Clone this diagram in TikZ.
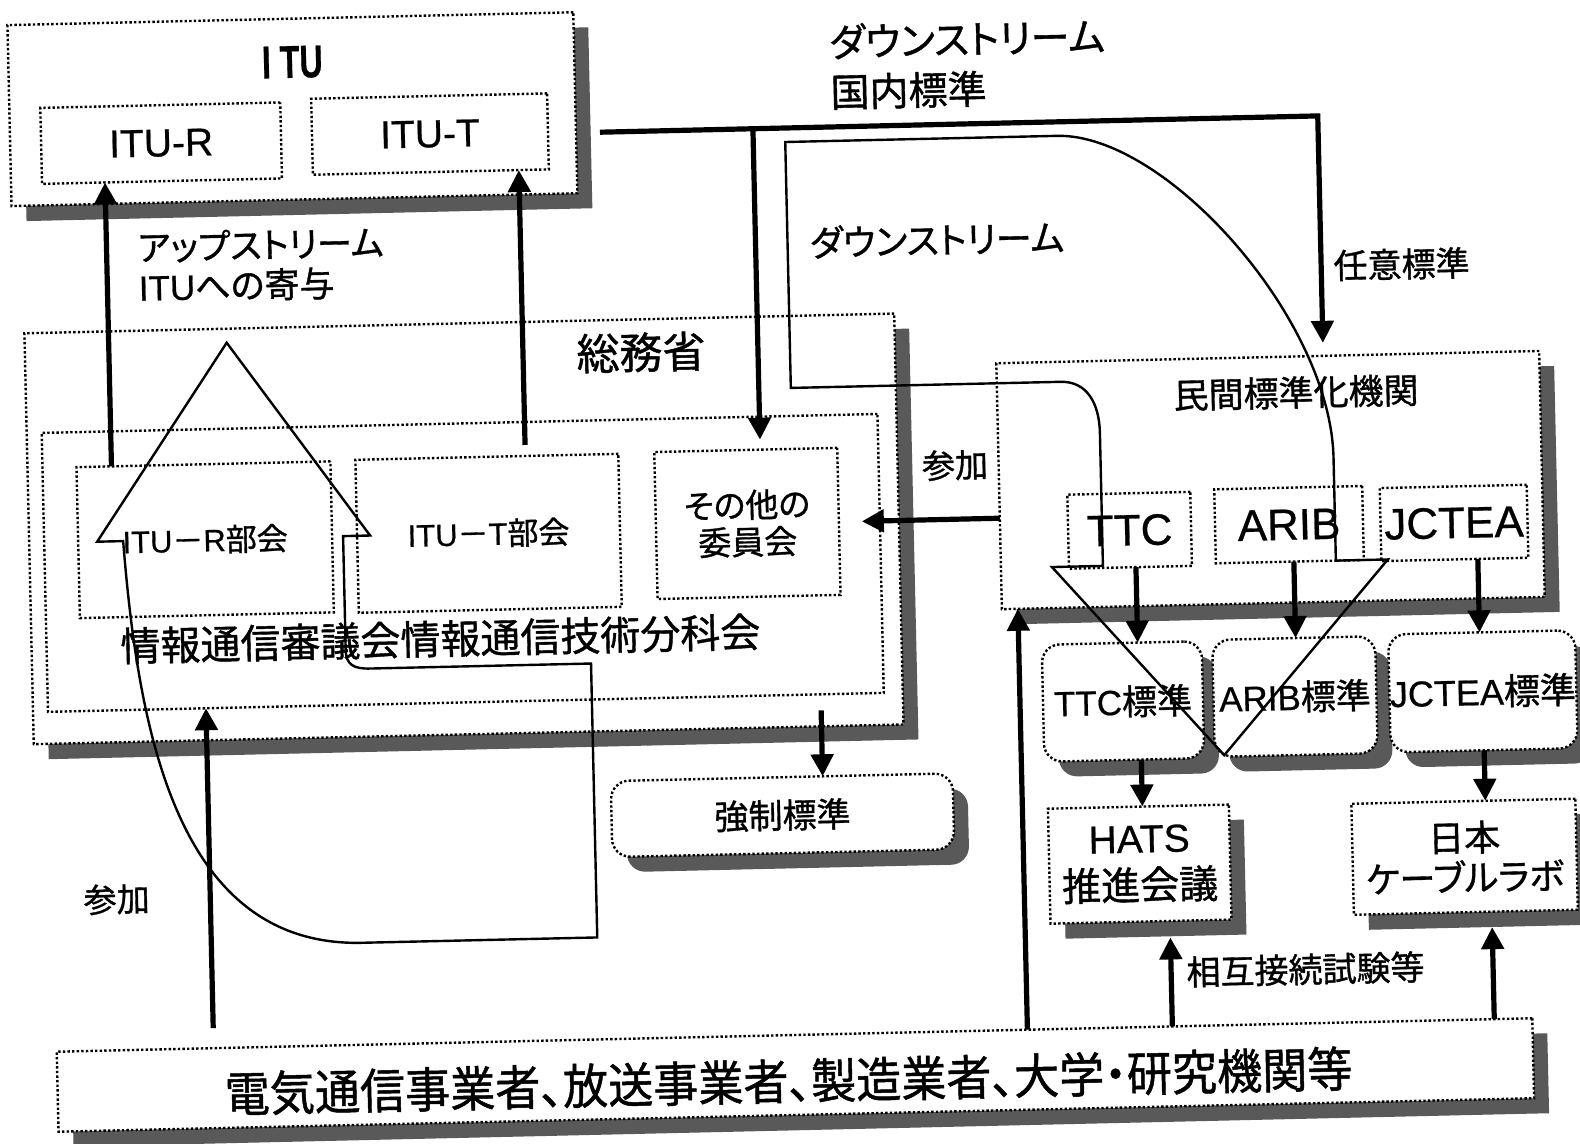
\documentclass[tikz,border=0pt]{standalone}
\usepackage{fontspec}
\usepackage{graphicx}
\setmainfont{Liberation Sans}[FakeBold=0.6]
\newfontfamily\jpf{Noto Sans CJK JP}[RawFeature=+palt,FakeBold=1.0]
\newcommand\JP[1]{{\jpf #1}}
\newcommand\fs[2]{\fontsize{#1}{#2}\selectfont}
\usetikzlibrary{arrows.meta,shadows}
\tikzset{
  dbox/.style={draw, line width=1.2pt, dash pattern=on 1.2pt off 1.1pt, fill=white, inner sep=0pt},
  sbox/.style={dbox, drop shadow={shadow xshift=7.5pt, shadow yshift=-7.5pt, fill=black!65, opacity=1}},
  rbox/.style={sbox, rounded corners=9pt},
  wd/.style={minimum width=#1*0.5pt},
  ht/.style={minimum height=#1*0.5pt},
  tarr/.style={line width=2.6pt, line join=miter, -{Triangle[length=11pt,width=11pt]}},
  hollow/.style={line width=1.2pt, line join=miter},
  lbl/.style={inner sep=0pt},
}
\begin{document}
\begin{tikzpicture}[x=0.5pt,y=-0.5pt]
\path[fill=white,use as bounding box] (0,0) rectangle (1580,1144);
\begin{scope}[rotate around={1.3:(790,572)}, every node/.append style={transform shape}]
% ITU
\node[sbox, wd=566, ht=181] (itu) at (303,98) {};
\node[lbl, font=\fs{23}{27}\bfseries] (itut) at (304,51) {\scalebox{0.7}[1]{I TU}};
\node[dbox, wd=240, ht=76, font=\fs{19.5}{23}] (itur) at (171,129) {ITU-R};
\node[dbox, wd=236, ht=76, font=\fs{19.5}{23}] (itutb) at (440,126) {ITU-T};
% Somusho
\node[sbox, wd=870, ht=411] (somu) at (465,521.5) {};
\node[lbl, font=\jpf\fs{21.5}{25}] (somut) at (646,349) {総務省};
\node[dbox, wd=836, ht=279] (shingi) at (463,555.5) {};
\node[dbox, wd=254, ht=151, font=\fs{15.5}{19}] (iturb) at (206,526.5) {ITU\JP{－}R\JP{部会}};
\node[dbox, wd=263, ht=153, font=\fs{15.5}{19}] (itutbk) at (489.5,526.5) {ITU\JP{－}T\JP{部会}};
\node[dbox, wd=183, ht=147, font=\jpf\fs{16.5}{18.5}, align=center] (sonota) at (748.5,522.5) {その他の\\委員会};
\node[lbl, font=\jpf\fs{20}{23}] (shingit) at (439,631) {情報通信審議会情報通信技術分科会};
% kyosei
\node[rbox, wd=342, ht=76, font=\jpf\fs{17}{20}] (kyosei) at (777,815) {強制標準};
% minkan
\node[sbox, wd=543, ht=246] (minkan) at (1272.5,491) {};
\node[lbl, font=\jpf\fs{17.5}{21}] (minkant) at (1300,404) {民間標準化機関};
\node[dbox, wd=123, ht=74, font=\fs{22}{26}] (ttc) at (1130.5,538) {TTC};
\node[dbox, wd=148, ht=74, font=\fs{22}{26}] (arib) at (1290,536) {ARIB};
\node[dbox, wd=147, ht=73, font=\fs{22}{26}] (jctea) at (1455,538) {JCTEA};
\node[rbox, wd=160, ht=117, font=\fs{17.5}{21}] (ttcs) at (1120,709) {TTC\JP{標準}};
\node[rbox, wd=163, ht=117, font=\fs{17.5}{21}] (aribs) at (1292,708) {ARIB\JP{標準}};
\node[rbox, wd=187, ht=118, font=\fs{18}{21}] (jcteas) at (1480,707) {JCTEA\JP{標準}};
\node[sbox, wd=181, ht=115, align=center, font=\fs{19.5}{23.5}] (hats) at (1133,872) {HATS\\\JP{推進会議}};
\node[sbox, wd=224, ht=111, align=center, font=\jpf\fs{18}{20}] (cable) at (1458,872) {日本\\ケーブルラボ};
% bottom
\node[sbox, wd=1476, ht=80] (bottom) at (784,1075) {};
\node[lbl, font=\jpf\fs{24}{28}] (bottomt) at (777,1081) {\scalebox{0.94}[1]{電気通信事業者、放送事業者、製造業者、大学・研究機関等}};
% labels
\node[lbl, anchor=west, align=left, font=\fs{17.5}{20}] (upl) at (145,253) {\JP{アップストリーム}\\ITU\JP{への寄与}};
\node[lbl, anchor=west, align=left, font=\jpf\fs{19.5}{25}] (dsl) at (841,68) {ダウンストリーム\\国内標準};
\node[lbl, anchor=west, font=\jpf\fs{18}{21}] (dsm) at (817,243) {ダウンストリーム};
\node[lbl, anchor=west, font=\jpf\fs{17}{20}] (nini) at (1340,278) {任意標準};
\node[lbl, anchor=west, font=\jpf\fs{16.5}{20}] (sanka1) at (924,469) {参加};
\node[lbl, anchor=west, font=\jpf\fs{16.5}{20}] (sanka2) at (76,884) {参加};
\node[lbl, anchor=west, font=\jpf\fs{17}{20}] (sogo) at (1177,981) {相互接続試験等};
% connector end points
\coordinate (rA) at (114,451); \coordinate (rB) at (114,167);
\coordinate (tA) at (528,439); \coordinate (tB) at (528,164);
\coordinate (sA) at (203,1015); \coordinate (sB) at (203,695);
\coordinate (kA) at (818,711); \coordinate (kB) at (818,777);
\coordinate (hs) at (610,128); \coordinate (hc) at (1328,128); \coordinate (hte) at (1328,355);
\coordinate (hb) at (763,128); \coordinate (hbt) at (763,439);
\coordinate (mA) at (1001,523); \coordinate (mB) at (863,523);
\coordinate (uA) at (1017,1035); \coordinate (uB) at (1017,614);
\coordinate (c1) at (1136,575); \coordinate (c1b) at (1136,650.5);
\coordinate (c2) at (1294,573); \coordinate (c2b) at (1294,649.5);
\coordinate (c3) at (1478,574.5); \coordinate (c3b) at (1478,648);
\coordinate (d1) at (1137,767.5); \coordinate (d1b) at (1137,814.5);
\coordinate (d2) at (1480,766); \coordinate (d2b) at (1480,816.5);
\coordinate (e1) at (1162,1035); \coordinate (e1b) at (1162,946);
\coordinate (e2) at (1484,1035); \coordinate (e2b) at (1484,943);
% thick arrows
\draw[tarr] (rA) -- (rB);
\draw[tarr] (tA) -- (tB);
\draw[tarr] (sA) -- (sB);
\draw[tarr] (kA) -- (kB);
\draw[tarr] (hs) -- (hc) -- (hte);
\draw[tarr] (hb) -- (hbt);
\draw[tarr] (mA) -- (mB);
\draw[tarr] (uA) -- (uB);
\draw[tarr] (c1) -- (c1b);
\draw[tarr] (c2) -- (c2b);
\draw[tarr] (c3) -- (c3b);
\draw[tarr] (d1) -- (d1b);
\draw[tarr] (d2) -- (d2b);
\draw[tarr] (e1) -- (e1b);
\draw[tarr] (e2) -- (e2b);
% hollow arrows
\draw[hollow] (232,330) -- (371,526) -- (344,526) -- (344,640) .. controls (344,655) and (352,659) .. (368,659) -- (589,659) -- (589,933) -- (350,933) .. controls (170,930) and (135,720) .. (124,526) -- (98,526) -- cycle;
\draw[hollow] (795,142) -- (1067,142) .. controls (1175,142) and (1336,330) .. (1336,470) -- (1336,573) -- (1388,573) -- (1220,765) -- (1052,573) -- (1103,573) -- (1103,440) .. controls (1103,410) and (1091,388) .. (1065,388) -- (795,388) -- cycle;
\end{scope}
\end{tikzpicture}
\end{document}
